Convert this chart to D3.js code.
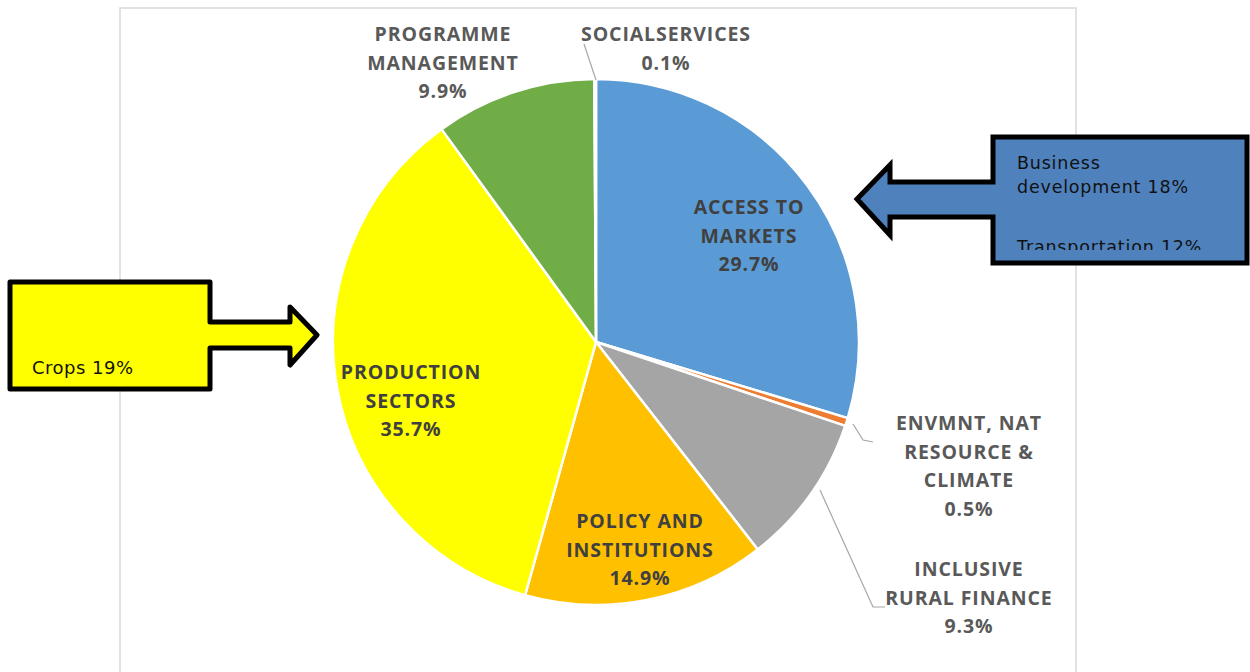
<!DOCTYPE html>
<html>
<head>
<meta charset="utf-8">
<script src="https://cdn.jsdelivr.net/npm/d3@7"></script>
<style>
  html, body { margin: 0; padding: 0; background: #ffffff; }
  svg { display: block; }
</style>
</head>
<body>
<svg id="chart" width="1250" height="672"></svg>
<script>
// ---- data ----
const categories = ["ACCESS TO MARKETS", "ENVMNT, NAT RESOURCE & CLIMATE", "INCLUSIVE RURAL FINANCE",
                    "POLICY AND INSTITUTIONS", "PRODUCTION SECTORS", "PROGRAMME MANAGEMENT", "SOCIALSERVICES"];
const values = [29.7, 0.5, 9.3, 14.9, 35.7, 9.9, 0.1];
const labelLines = [["ACCESS TO", "MARKETS"], ["ENVMNT, NAT", "RESOURCE &", "CLIMATE"], ["INCLUSIVE", "RURAL FINANCE"],
                    ["POLICY AND", "INSTITUTIONS"], ["PRODUCTION", "SECTORS"], ["PROGRAMME", "MANAGEMENT"], ["SOCIALSERVICES"]];
const colors = ["#5B9BD5", "#ED7D31", "#A5A5A5", "#FFC000", "#FFFF00", "#70AD47", "#264478"];
const callouts = [
  { lines: ["Business", "development 18%", "", "Transportation 12%"], fill: "#4F81BD" },
  { lines: ["Crops 19%"], fill: "#FFFF00" }
];

// ---- layout (positions relative to pie centre) ----
const cx = 596, cy = 342, R = 263;
const labelLayout = [
  { dx: 153, dy: -128, inside: true },
  { dx: 373, dy: 88, inside: false, leader: [[257, 82], [267, 98], [277, 100]] },
  { dx: 373, dy: 234, inside: false, leader: [[224, 148], [277, 265], [289, 265]] },
  { dx: 44, dy: 186, inside: true },
  { dx: -185, dy: 37, inside: true },
  { dx: -153, dy: -301, inside: false },
  { dx: 70, dy: -301, inside: false, leader: [[-12, -298], [0, -262]] }
];
const lineStep = 28.5;

const svg = d3.select("#chart");

// frame
svg.append("rect")
  .attr("x", 120).attr("y", 8).attr("width", 956).attr("height", 700)
  .attr("fill", "#ffffff").attr("stroke", "#d9d9d9").attr("stroke-width", 1.5);

const pie = d3.pie().value(d => d).sort(null);
const arcs = pie(values);
const arc = d3.arc().innerRadius(0).outerRadius(R);

const g = svg.append("g").attr("transform", `translate(${cx},${cy})`);
g.selectAll("path.slice").data(arcs).enter().append("path")
  .attr("class", "slice")
  .attr("d", arc)
  .attr("fill", (d, i) => colors[i])
  .attr("stroke", "#ffffff").attr("stroke-width", 2.5).attr("stroke-linejoin", "round");

// leader lines
g.selectAll("path.leader").data(labelLayout.filter(l => l.leader)).enter().append("path")
  .attr("class", "leader")
  .attr("d", l => d3.line()(l.leader))
  .attr("fill", "none").attr("stroke", "#a6a6a6").attr("stroke-width", 1.2);

// labels
const fmt = v => v.toFixed(1) + "%";
labelLayout.forEach((l, i) => {
  const lines = labelLines[i].concat([fmt(values[i])]);
  const t = g.append("text")
    .attr("text-anchor", "middle")
    .attr("font-family", "'Open Sans', 'Liberation Sans', sans-serif")
    .attr("font-weight", 700)
    .attr("font-size", 19.5)
    .attr("letter-spacing", 0.9)
    .attr("fill", l.inside ? "#404040" : "#595959");
  lines.forEach((s, k) => {
    t.append("tspan").attr("x", l.dx).attr("y", l.dy + k * lineStep).text(s);
  });
});

// callouts
const defs = svg.append("defs");
defs.append("clipPath").attr("id", "clipBlue")
  .append("rect").attr("x", 995).attr("y", 140).attr("width", 250).attr("height", 110);

const blueShape = "M993,137 H1247 V263 H993 V217 H890 V235 L857,199 L890,165 V182 H993 Z";
svg.append("path").attr("d", blueShape)
  .attr("fill", callouts[0].fill).attr("stroke", "#000").attr("stroke-width", 5)
  .attr("stroke-linejoin", "miter");
const bt = svg.append("text").attr("clip-path", "url(#clipBlue)")
  .attr("font-family", "'DejaVu Sans', Verdana, sans-serif").attr("font-size", 17.5)
  .attr("letter-spacing", 0.8).attr("fill", "#111");
callouts[0].lines.forEach((s, k) => {
  bt.append("tspan").attr("x", 1017).attr("y", 169 + k * 24 + (k >= 2 ? 12 : 0)).text(s);
});

const yellowShape = "M10,282 H210 V322 H290 V307 L317,335 L290,365 V348 H210 V389 H10 Z";
svg.append("path").attr("d", yellowShape)
  .attr("fill", callouts[1].fill).attr("stroke", "#000").attr("stroke-width", 5)
  .attr("stroke-linejoin", "round");
svg.append("text").attr("x", 32).attr("y", 374)
  .attr("font-family", "'DejaVu Sans', Verdana, sans-serif").attr("font-size", 18)
  .attr("letter-spacing", 0.5).attr("fill", "#111")
  .text(callouts[1].lines[0]);
</script>
</body>
</html>
